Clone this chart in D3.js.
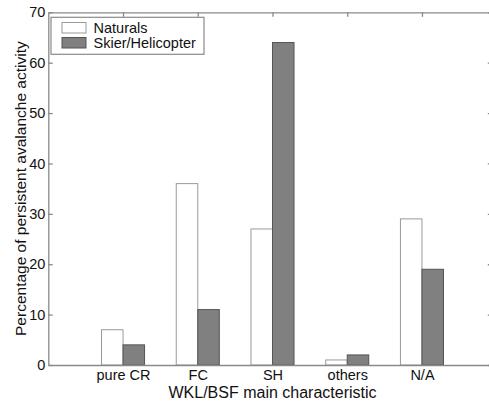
<!DOCTYPE html>
<html><head><meta charset="utf-8">
<script src="https://cdn.jsdelivr.net/npm/d3@7"></script>
<style>body{margin:0;background:#fff}svg{display:block;font-family:"Liberation Sans",Arial,sans-serif}</style>
</head><body><svg id="c" width="489" height="402"></svg>
<script>
const categories = ["pure CR","FC","SH","others","N/A"];
const seriesNames = ["Naturals","Skier/Helicopter"];
const naturals = [7,36,27,1,29];
const skier = [4,11,64,2,19];
const yTicks = [0,10,20,30,40,50,60,70];

const svg = d3.select("#c");
const x = d3.scaleLinear().domain([0,6]).range([48.3,496.7]);
const y = d3.scaleLinear().domain([0,70]).range([365,12.3]);
const axisCol = "#8a8a8a";
const bw = (x(1)-x(0))*0.288;

// bars
const series = [naturals, skier];
const fills = ["#ffffff","#808080"];
const strokes = ["#9a9a9a","#555555"];
series.forEach((vals,s)=>{
  svg.append("g").selectAll("rect").data(vals).join("rect")
    .attr("x",(d,i)=>x(i+1)+(s===0?-bw:0))
    .attr("y",d=>y(d))
    .attr("width",bw)
    .attr("height",d=>y(0)-y(d))
    .attr("fill",fills[s]).attr("stroke",strokes[s]).attr("stroke-width",1);
});

// axes
const gL = svg.append("g").attr("transform",`translate(${x(0)},0)`)
  .call(d3.axisLeft(y).tickValues(yTicks).tickSizeInner(-4.5).tickSizeOuter(0).tickPadding(3));
const gR = svg.append("g").attr("transform",`translate(${x(0)+444},0)`)
  .call(d3.axisRight(y).tickValues(yTicks).tickSizeInner(-4.5).tickSizeOuter(0).tickFormat(""));
const gB = svg.append("g").attr("transform",`translate(0,${y(0)})`)
  .call(d3.axisBottom(x).tickValues([1,2,3,4,5]).tickFormat((d,i)=>categories[i]).tickSizeInner(-4.5).tickSizeOuter(0).tickPadding(5));
const gT = svg.append("g").attr("transform",`translate(0,${y(70)})`)
  .call(d3.axisTop(x).tickValues([1,2,3,4,5]).tickSizeInner(-4.5).tickSizeOuter(0).tickFormat(""));
[gL,gR,gB,gT].forEach(g=>{
  g.selectAll("path,line").attr("stroke",axisCol).attr("stroke-width",1.3);
  g.selectAll("text").attr("fill","#111").style("font-size","14.5px").style("font-family","Liberation Sans, Arial, sans-serif");
});
gB.selectAll("line").attr("stroke","none");

// labels
svg.append("text").attr("x",272.5).attr("y",397.5).attr("text-anchor","middle")
  .style("font-size","16px").attr("fill","#111").text("WKL/BSF main characteristic");
svg.append("text").attr("transform",`translate(26,${(12.3+365)/2}) rotate(-90)`).attr("text-anchor","middle")
  .style("font-size","15.5px").attr("fill","#111").text("Percentage of persistent avalanche activity");

// legend
const lg = svg.append("g");
lg.append("rect").attr("x",51).attr("y",17.3).attr("width",153).attr("height",37).attr("fill","#fff").attr("stroke",axisCol).attr("stroke-width",1.2);
seriesNames.forEach((n,i)=>{
  lg.append("rect").attr("x",62).attr("y",22.5+i*15).attr("width",24).attr("height",10.5)
    .attr("fill",fills[i]).attr("stroke",strokes[i]);
  lg.append("text").attr("x",93.5).attr("y",32.5+i*15).style("font-size","14.5px").attr("fill","#111").text(n);
});
</script></body></html>
